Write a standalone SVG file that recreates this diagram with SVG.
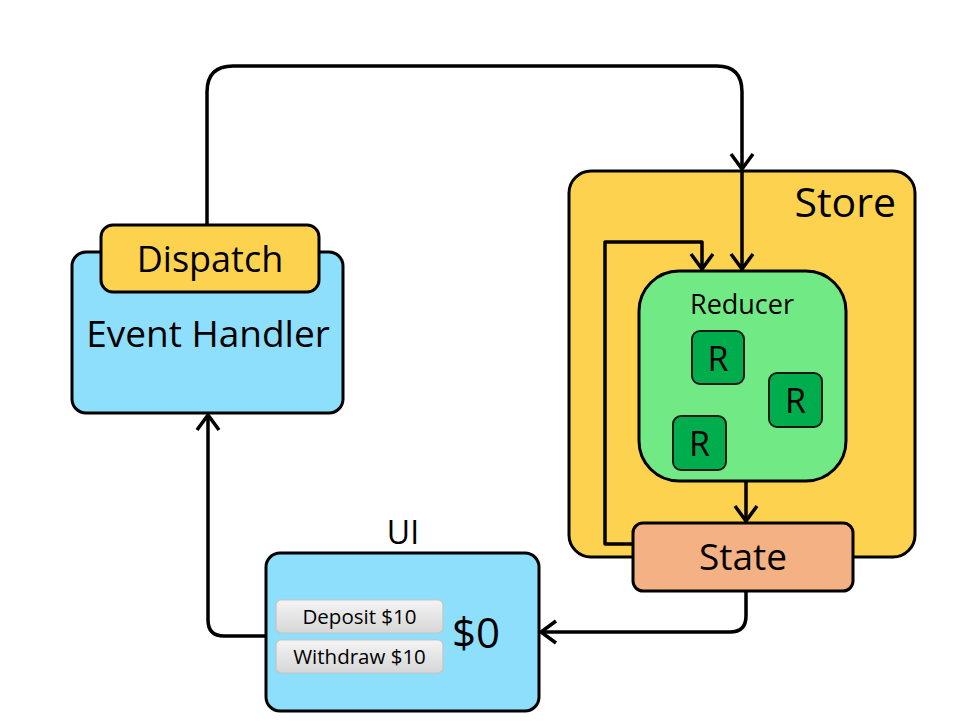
<svg xmlns="http://www.w3.org/2000/svg" width="976" height="721" viewBox="0 0 976 721">
<style>
text{font-family:"Open Sans","Liberation Sans",sans-serif;fill:#000}
.node{stroke:#000;stroke-width:3}
.conn{fill:none;stroke:#000;stroke-width:3.5;stroke-linejoin:round}
.btn{fill:url(#bg);stroke:#c4c4c4;stroke-width:1.2}
.r{fill:#00AD4C;stroke:#1a1a1a;stroke-width:2}
</style>
<defs>
<marker id="arr" markerUnits="userSpaceOnUse" viewBox="-18 -14 21 28" markerWidth="21" markerHeight="28" refX="0" refY="0" orient="auto">
<path d="M-15,-11 L0,0 L-15,11" fill="none" stroke="#000" stroke-width="3.5" stroke-linejoin="miter"/>
</marker>
<linearGradient id="bg" x1="0" y1="0" x2="0" y2="1">
<stop offset="0" stop-color="#f4f4f4"/>
<stop offset="1" stop-color="#d6d6d6"/>
</linearGradient>
</defs>
<rect width="976" height="721" fill="#fff"/>
<g id="store">
<rect class="node" x="569" y="171" width="346" height="386" rx="22" fill="#FDD24E"/>
<text x="896" y="217" font-size="41" text-anchor="end">Store</text>
</g>
<g id="reducer">
<rect class="node" x="639" y="271" width="207" height="210" rx="40" fill="#71E985"/>
<text x="742" y="314" font-size="27" text-anchor="middle">Reducer</text>
<rect class="r" x="692" y="331" width="52" height="53" rx="8"/>
<text x="718" y="371" font-size="34" text-anchor="middle">R</text>
<rect class="r" x="769" y="373" width="53" height="54" rx="8"/>
<text x="795.5" y="413" font-size="34" text-anchor="middle">R</text>
<rect class="r" x="673" y="416" width="53" height="54" rx="8"/>
<text x="699.5" y="456" font-size="34" text-anchor="middle">R</text>
</g>
<g id="state">
<rect class="node" x="633" y="523" width="220" height="68" rx="10" fill="#F4B183"/>
<text x="743" y="570" font-size="37" text-anchor="middle">State</text>
</g>
<g id="event-handler">
<rect class="node" x="72" y="252" width="271" height="161" rx="14" fill="#8EDFFB"/>
<text x="208" y="347" font-size="37" text-anchor="middle">Event Handler</text>
</g>
<g id="dispatch">
<rect class="node" x="101" y="225" width="218" height="67" rx="12" fill="#FDD24E"/>
<text x="210" y="272" font-size="36" text-anchor="middle">Dispatch</text>
</g>
<g id="ui">
<text x="403" y="544" font-size="32" text-anchor="middle">UI</text>
<rect class="node" x="266" y="553" width="273" height="158" rx="14" fill="#8EDFFB"/>
<rect class="btn" x="276" y="600" width="167" height="33" rx="5"/>
<text x="359.5" y="624" font-size="20.5" text-anchor="middle" fill="#222">Deposit $10</text>
<rect class="btn" x="276" y="640" width="167" height="33" rx="5"/>
<text x="359.5" y="664" font-size="20.5" text-anchor="middle" fill="#222">Withdraw $10</text>
<text x="476" y="648" font-size="42" text-anchor="middle">$0</text>
</g>
<g id="connectors">
<path class="conn" d="M207,224 L207,92 Q207,66 233,66 L717,66 Q742,66 742,92 L742,169" marker-end="url(#arr)"/>
<path class="conn" d="M742,171 L742,269" marker-end="url(#arr)"/>
<path class="conn" d="M633,544 L605,544 L605,242 L702,242 L702,269" marker-end="url(#arr)"/>
<path class="conn" d="M746,481 L746,521" marker-end="url(#arr)"/>
<path class="conn" d="M746,591 L746,616 Q746,632 730,632 L541,632" marker-end="url(#arr)"/>
<path class="conn" d="M266,636 L224,636 Q208,636 208,620 L208,415" marker-end="url(#arr)"/>
</g>
</svg>
